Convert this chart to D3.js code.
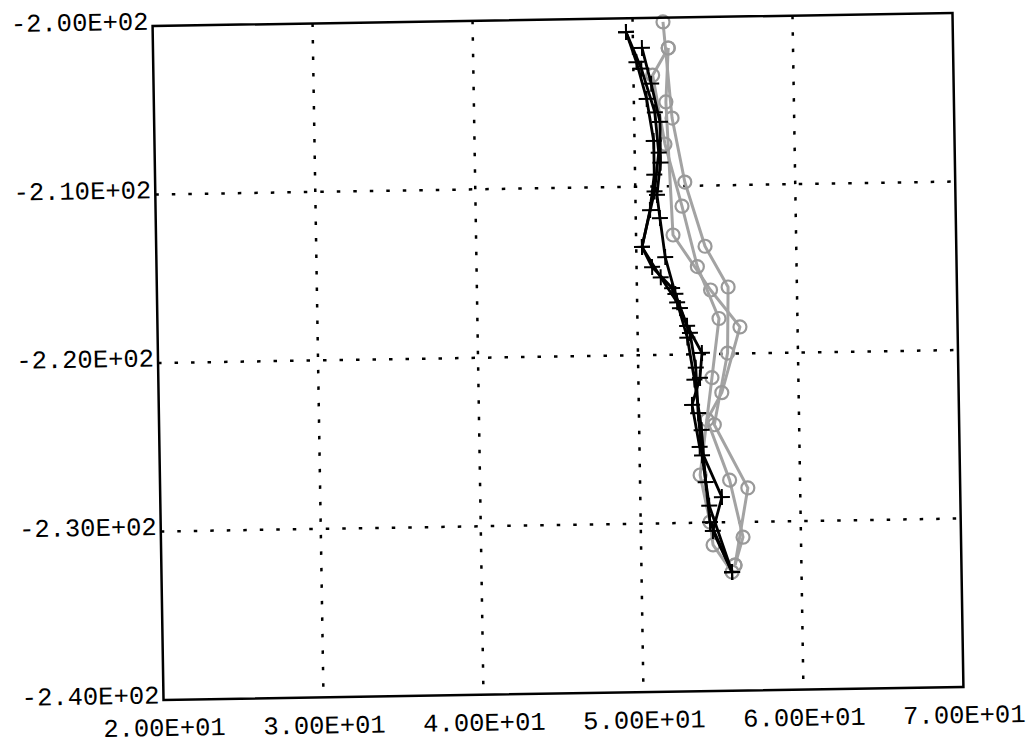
<!DOCTYPE html>
<html>
<head>
<meta charset="utf-8">
<script src="https://cdn.jsdelivr.net/npm/d3@7/dist/d3.min.js"></script>
<style>
  html, body { margin: 0; padding: 0; background: #fff; }
  svg { display: block; }
</style>
</head>
<body>
<svg id="chart" width="1034" height="746"></svg>
<script>
// ---- data ----
const xTicks = [20, 30, 40, 50, 60, 70];
const xTickLabels = ["2.00E+01", "3.00E+01", "4.00E+01", "5.00E+01", "6.00E+01", "7.00E+01"];
const yTicks = [-200, -210, -220, -230, -240];
const yTickLabels = ["-2.00E+02", "-2.10E+02", "-2.20E+02", "-2.30E+02", "-2.40E+02"];
const xGrid = [30, 40, 50, 60];
const yGrid = [-210, -220, -230];

// black series ("+" markers)
const black1 = [[49.58,-200.81],[50.5,-203.0],[51.3,-205.6],[51.5,-208.0],[51.2,-210.3],[50.36,-213.58],[50.97,-214.78],[52.2,-216.05],[52.67,-217.24],[53.27,-218.73],[53.6,-220.8],[53.7,-223.5],[53.9,-226.0],[54.3,-229.0],[55.66,-232.96]];
const black2 = [[50.56,-201.77],[51.1,-203.9],[51.61,-206.18],[51.6,-208.6],[51.35,-210.51],[51.51,-211.88],[51.8,-214.2],[52.4,-216.4],[53.1,-218.3],[54.0,-219.93],[53.85,-221.41],[53.33,-223.0],[53.76,-225.5],[55.1,-228.5],[54.5,-230.5],[55.66,-232.96]];
const black3 = [[49.58,-200.81],[50.2,-202.6],[50.8,-204.8],[51.2,-207.3],[51.2,-209.3],[50.9,-211.4],[50.36,-213.58],[51.5,-215.4],[52.5,-216.9],[53.1,-219.0],[53.5,-221.5],[53.9,-224.5],[54.1,-227.6],[54.33,-229.97],[55.66,-232.96]];

// grey series ("o" markers)
const grey1 = [[51.9,-200.25],[52.37,-205.96],[53.1,-209.77],[54.3,-213.6],[55.7,-216.04],[55.6,-219.96],[54.7,-224.2],[56.73,-227.98],[55.85,-232.55]];
const grey2 = [[52.2,-201.8],[52.0,-205.0],[52.31,-212.9],[54.6,-216.2],[56.4,-218.42],[55.2,-222.3],[54.25,-223.9],[55.6,-227.5],[56.38,-230.9],[55.85,-232.55]];
const grey3 = [[52.2,-201.8],[51.2,-203.4],[51.9,-207.5],[52.9,-211.2],[53.8,-214.8],[55.1,-217.9],[54.6,-221.4],[53.76,-227.17],[54.33,-229.97],[54.5,-231.33],[55.66,-232.96]];

const blackSeries = [black1, black2, black3];
const greySeries = [grey1, grey2, grey3];

// ---- layout ----
const L = 158, R = 958, T = 19.5, B = 693.5;
const cx = (L + R) / 2, cy = (T + B) / 2;
const svg = d3.select("#chart");
const g = svg.append("g").attr("transform", `rotate(-0.93, ${cx}, ${cy})`);

const x = d3.scaleLinear().domain([20, 70]).range([L, R]);
const y = d3.scaleLinear().domain([-240, -200]).range([B, T]);

const FONT = "'Liberation Mono', 'DejaVu Sans Mono', monospace";

// grid
g.append("g").selectAll("line").data(xGrid).join("line")
  .attr("x1", d => x(d)).attr("x2", d => x(d))
  .attr("y1", T).attr("y2", B)
  .attr("stroke", "#000").attr("stroke-width", 2.5)
  .attr("stroke-dasharray", "3.5,13");
g.append("g").selectAll("line").data(yGrid).join("line")
  .attr("y1", d => y(d)).attr("y2", d => y(d))
  .attr("x1", L).attr("x2", R)
  .attr("stroke", "#000").attr("stroke-width", 2.5)
  .attr("stroke-dasharray", "3.5,13");

// axes labels
const yAxis = d3.axisLeft(y).tickValues(yTicks).tickSize(0).tickPadding(4)
  .tickFormat(d => yTickLabels[yTicks.indexOf(d)]);
const ya = g.append("g").attr("transform", `translate(${L},0)`).call(yAxis);
ya.select(".domain").remove();
ya.selectAll("text").attr("font-family", FONT).attr("font-size", 25.5)
  .attr("fill", "#000").attr("dy", "0.12em");

const xAxis = d3.axisBottom(x).tickValues(xTicks).tickSize(0).tickPadding(18)
  .tickFormat(d => xTickLabels[xTicks.indexOf(d)]);
const xa = g.append("g").attr("transform", `translate(0,${B})`).call(xAxis);
xa.select(".domain").remove();
xa.selectAll("text").attr("font-family", FONT).attr("font-size", 25.5).attr("fill", "#000");

// data
const line = d3.line().x(d => x(d[0])).y(d => y(d[1]));

const greyG = g.append("g");
greySeries.forEach(s => {
  greyG.append("path").datum(s).attr("d", line)
    .attr("fill", "none").attr("stroke", "#a3a3a3").attr("stroke-width", 3)
    .attr("stroke-linejoin", "round");
  greyG.append("g").selectAll("circle").data(s).join("circle")
    .attr("cx", d => x(d[0])).attr("cy", d => y(d[1])).attr("r", 6.5)
    .attr("fill", "none").attr("stroke", "#999").attr("stroke-width", 2.2);
});

const blackG = g.append("g");
blackSeries.forEach(s => {
  blackG.append("path").datum(s).attr("d", line)
    .attr("fill", "none").attr("stroke", "#000").attr("stroke-width", 2.8)
    .attr("stroke-linejoin", "round");
  blackG.append("g").selectAll("path").data(s).join("path")
    .attr("transform", d => `translate(${x(d[0])},${y(d[1])})`)
    .attr("d", "M-8,0H8M0,-8V8")
    .attr("stroke", "#000").attr("stroke-width", 2);
});

// frame
g.append("rect").attr("x", L).attr("y", T).attr("width", R - L).attr("height", B - T)
  .attr("fill", "none").attr("stroke", "#000").attr("stroke-width", 2.5);
</script>
</body>
</html>
